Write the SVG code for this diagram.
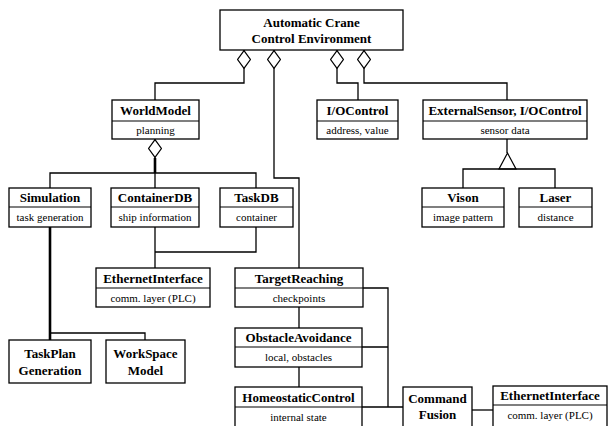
<svg xmlns="http://www.w3.org/2000/svg" width="609" height="426" viewBox="0 0 609 426">
<style>
.box{fill:#fff;stroke:#000;stroke-width:1.3}
.div{stroke:#000;stroke-width:1.1}
.h{font-family:"Liberation Serif",serif;font-weight:bold;font-size:13px;text-anchor:middle;fill:#000}
.b{font-family:"Liberation Serif",serif;font-size:11px;text-anchor:middle;fill:#000}
.c{fill:none;stroke:#000;stroke-width:1.3}
.thick{fill:none;stroke:#000;stroke-width:2.6}
</style>
<defs>
<marker id="agg" markerUnits="userSpaceOnUse" viewBox="0 0 19 14" refX="0" refY="7" markerWidth="19" markerHeight="14" orient="auto">
<path d="M0.6,7 L9.5,0.6 L18.4,7 L9.5,13.4 Z" fill="#fff" stroke="#000" stroke-width="1.2"/>
</marker>
</defs>
<g id="connectors">
<path class="c" d="M244,50 V83 H155 V100" marker-start="url(#agg)"/>
<path class="c" d="M274,50 V178 H299 V268" marker-start="url(#agg)"/>
<path class="c" d="M337,50 V83 H358 V100" marker-start="url(#agg)"/>
<path class="c" d="M364,50 V83 H507 V100" marker-start="url(#agg)"/>
<path class="c" d="M155,139 V173" marker-start="url(#agg)"/>
<path class="thick" d="M155,158 V173"/>
<path class="c" d="M50,188 V173 H256 V188 M155,173 V188"/>
<path class="c" d="M507,139 V153"/>
<polygon points="507.5,153 499,169 516,169" fill="#fff" stroke="#000" stroke-width="1.2"/>
<path class="c" d="M463,188 V169 H555 V188"/>
<path class="c" d="M155,227 V268 M155,252 H256 V227"/>
<path class="thick" d="M50,227 V340"/>
<path class="c" d="M50,333 H145 V340"/>
<path class="c" d="M299,307 V328 M299,367 V387"/>
<path class="c" d="M363,288 H388 V407 M362,347 H388 M362,407 H403"/>
<path class="c" d="M472,410 H493"/>
</g>
<g id="top">
<rect class="box" x="220" y="10" width="183" height="40"/>
<text class="h" x="311.5" y="27">Automatic Crane</text>
<text class="h" x="311.5" y="43">Control Environment</text>
</g>
<g id="worldmodel">
<rect class="box" x="112" y="100" width="87" height="39"/>
<line class="div" x1="112" y1="121" x2="199" y2="121"/>
<text class="h" x="155.5" y="115">WorldModel</text>
<text class="b" x="155.5" y="134">planning</text>
</g>
<g id="iocontrol">
<rect class="box" x="317" y="100" width="81" height="39"/>
<line class="div" x1="317" y1="121" x2="398" y2="121"/>
<text class="h" x="357.5" y="115">I/OControl</text>
<text class="b" x="357.5" y="134">address, value</text>
</g>
<g id="externalsensor">
<rect class="box" x="423" y="100" width="164" height="39"/>
<line class="div" x1="423" y1="121" x2="587" y2="121"/>
<text class="h" x="505" y="115">ExternalSensor, I/OControl</text>
<text class="b" x="505" y="134">sensor data</text>
</g>
<g id="simulation">
<rect class="box" x="9" y="188" width="82" height="39"/>
<line class="div" x1="9" y1="207" x2="91" y2="207"/>
<text class="h" x="50" y="202">Simulation</text>
<text class="b" x="50" y="221">task generation</text>
</g>
<g id="containerdb">
<rect class="box" x="111" y="188" width="88" height="39"/>
<line class="div" x1="111" y1="207" x2="199" y2="207"/>
<text class="h" x="155" y="202">ContainerDB</text>
<text class="b" x="155" y="221">ship information</text>
</g>
<g id="taskdb">
<rect class="box" x="220" y="188" width="73" height="39"/>
<line class="div" x1="220" y1="207" x2="293" y2="207"/>
<text class="h" x="256.5" y="202">TaskDB</text>
<text class="b" x="256.5" y="221">container</text>
</g>
<g id="vison">
<rect class="box" x="422" y="188" width="82" height="39"/>
<line class="div" x1="422" y1="207" x2="504" y2="207"/>
<text class="h" x="463" y="202">Vison</text>
<text class="b" x="463" y="221">image pattern</text>
</g>
<g id="laser">
<rect class="box" x="519" y="188" width="73" height="39"/>
<line class="div" x1="519" y1="207" x2="592" y2="207"/>
<text class="h" x="555.5" y="202">Laser</text>
<text class="b" x="555.5" y="221">distance</text>
</g>
<g id="ethernet1">
<rect class="box" x="96" y="268" width="114" height="39"/>
<line class="div" x1="96" y1="288" x2="210" y2="288"/>
<text class="h" x="153" y="283">EthernetInterface</text>
<text class="b" x="153" y="302">comm. layer (PLC)</text>
</g>
<g id="targetreaching">
<rect class="box" x="235" y="268" width="128" height="39"/>
<line class="div" x1="235" y1="288" x2="363" y2="288"/>
<text class="h" x="299" y="283">TargetReaching</text>
<text class="b" x="299" y="302">checkpoints</text>
</g>
<g id="obstacleavoidance">
<rect class="box" x="235" y="328" width="127" height="39"/>
<line class="div" x1="235" y1="347" x2="362" y2="347"/>
<text class="h" x="298.5" y="342">ObstacleAvoidance</text>
<text class="b" x="298.5" y="361">local, obstacles</text>
</g>
<g id="homeostaticcontrol">
<rect class="box" x="235" y="387" width="127" height="45"/>
<line class="div" x1="235" y1="407" x2="362" y2="407"/>
<text class="h" x="298.5" y="402">HomeostaticControl</text>
<text class="b" x="298.5" y="421">internal state</text>
</g>
<g id="commandfusion">
<rect class="box" x="403" y="387" width="69" height="45"/>
<text class="h" x="437.5" y="403">Command</text>
<text class="h" x="437.5" y="419">Fusion</text>
</g>
<g id="ethernet2">
<rect class="box" x="493" y="386" width="114" height="46"/>
<line class="div" x1="493" y1="405" x2="607" y2="405"/>
<text class="h" x="550" y="400">EthernetInterface</text>
<text class="b" x="550" y="419">comm. layer (PLC)</text>
</g>
<g id="taskplan">
<rect class="box" x="9" y="340" width="82" height="43"/>
<text class="h" x="50" y="358">TaskPlan</text>
<text class="h" x="50" y="375">Generation</text>
</g>
<g id="workspace">
<rect class="box" x="106" y="340" width="79" height="43"/>
<text class="h" x="145.5" y="358">WorkSpace</text>
<text class="h" x="145.5" y="375">Model</text>
</g>
</svg>
